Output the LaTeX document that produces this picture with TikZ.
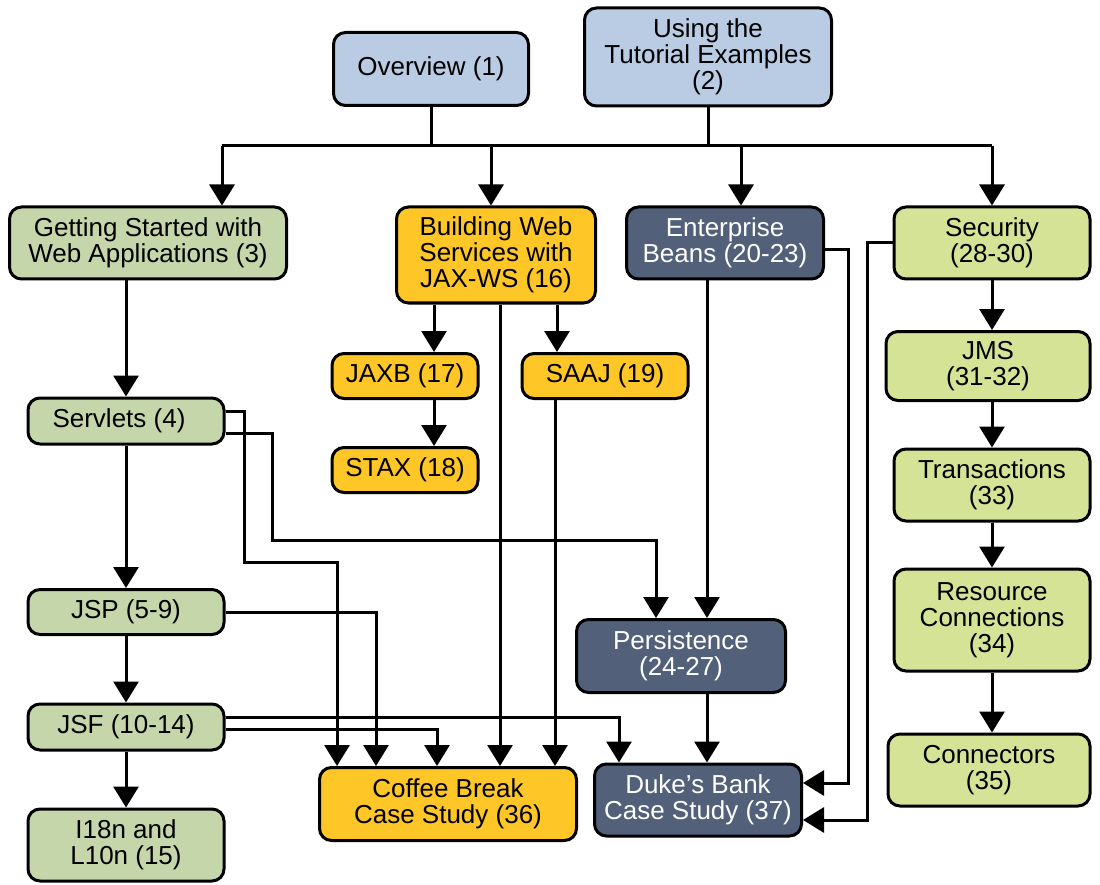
\documentclass[tikz,border=0pt]{standalone}
\usepackage{fontspec}
\setmainfont{Liberation Sans}
\usetikzlibrary{arrows.meta}

\begin{document}
\begin{tikzpicture}[x=1pt, y=-1pt,
  box/.style={draw=black, line width=3pt, rounded corners=12pt, align=center,
    inner sep=0pt, font=\fontsize{26}{26}\selectfont},
  link/.style={line width=3pt},
  arr/.style={line width=3pt, -{Triangle[width=25pt,length=21pt]}}]
  % Define colors for the chapter groups
  \definecolor{bluebox}{RGB}{185,204,228}
  \definecolor{sagebox}{RGB}{197,214,170}
  \definecolor{limebox}{RGB}{212,227,150}
  \definecolor{ambrbox}{RGB}{254,198,38}
  \definecolor{slatebox}{RGB}{82,96,122}

  \useasboundingbox (0,0) rectangle (1100,885);

  % Top row
  \node[box, fill=bluebox, minimum width=195pt, minimum height=73pt] (ovw) at (431,69) {Overview (1)};
  \node[box, fill=bluebox, minimum width=247pt, minimum height=98pt] (tut) at (708,57) {Using the\\Tutorial Examples\\(2)};

  % Second row
  \node[box, fill=sagebox, minimum width=277pt, minimum height=72pt] (start) at (148,243) {Getting Started with\\Web Applications (3)};
  \node[box, fill=ambrbox, minimum width=199pt, minimum height=96pt] (jaxws) at (496,255) {Building Web\\Services with\\JAX-WS (16)};
  \node[box, fill=slatebox, text=white, minimum width=197pt, minimum height=72pt] (ejb) at (725,243) {Enterprise\\Beans (20-23)};
  \node[box, fill=limebox, minimum width=196pt, minimum height=72pt] (sec) at (992,243) {Security\\(28-30)};

  % Web tier
  \node[box, fill=sagebox, minimum width=196pt, minimum height=46pt] (serv) at (126,421) {Servlets (4)\hspace{14pt}};
  \node[box, fill=sagebox, minimum width=196pt, minimum height=45pt] (jsp) at (126,612) {JSP (5-9)};
  \node[box, fill=sagebox, minimum width=196pt, minimum height=46pt] (jsf) at (126,727) {JSF (10-14)};
  \node[box, fill=sagebox, minimum width=196pt, minimum height=72pt] (i18n) at (126,845) {I18n and\\L10n (15)};

  % Web services
  \node[box, fill=ambrbox, minimum width=146pt, minimum height=45pt] (jaxb) at (405,376) {JAXB (17)};
  \node[box, fill=ambrbox, minimum width=166pt, minimum height=45pt] (saaj) at (605,376) {SAAJ (19)};
  \node[box, fill=ambrbox, minimum width=146pt, minimum height=45pt] (stax) at (405,470) {STAX (18)};

  % Enterprise tier
  \node[box, fill=slatebox, text=white, minimum width=209pt, minimum height=73pt] (pers) at (681,656) {Persistence\\(24-27)};

  % Platform services
  \node[box, fill=limebox, minimum width=204pt, minimum height=69pt] (jms) at (988,366) {JMS\\(31-32)};
  \node[box, fill=limebox, minimum width=196pt, minimum height=72pt] (trans) at (992,485) {Transactions\\(33)};
  \node[box, fill=limebox, minimum width=196pt, minimum height=102pt] (res) at (992,620) {Resource\\Connections\\(34)};
  \node[box, fill=limebox, minimum width=202pt, minimum height=72pt] (conn) at (989,770) {Connectors\\(35)};

  % Case studies
  \node[box, fill=ambrbox, minimum width=257pt, minimum height=73pt] (coffee) at (448,804) {Coffee Break\\Case Study (36)};
  \node[box, fill=slatebox, text=white, minimum width=207pt, minimum height=72pt] (duke) at (698,800) {Duke's Bank\\Case Study (37)};

  % Bus from the introduction
  \coordinate (busL) at (222,146);
  \coordinate (busR) at (992,146);
  \draw[link] (busL) -- (busR);
  \draw[link] (ovw.south) -- (ovw.south |- busL);
  \draw[link] (tut.south) -- (tut.south |- busL);
  \draw[arr] (busL) -- (busL |- start.north);
  \draw[arr] ([xshift=-5pt]jaxws.north |- busL) -- ([xshift=-5pt]jaxws.north);
  \draw[arr] ([xshift=16pt]ejb.north |- busL) -- ([xshift=16pt]ejb.north);
  \draw[arr] (busR) -- (busR |- sec.north);

  % Web tier chain
  \draw[arr] (serv.north |- start.south) -- (serv.north);
  \draw[arr] (serv) -- (jsp);
  \draw[arr] (jsp) -- (jsf);
  \draw[arr] (jsf) -- (i18n);

  % Web services chain
  \draw[arr] ([xshift=29pt]jaxb.north |- jaxws.south) -- ([xshift=29pt]jaxb.north);
  \draw[arr] ([xshift=-48pt]saaj.north |- jaxws.south) -- ([xshift=-48pt]saaj.north);
  \draw[arr] ([xshift=29pt]jaxb.south) -- ([xshift=29pt]stax.north);
  \draw[arr] ([xshift=4pt]jaxws.south) -- ([xshift=4pt]jaxws.south |- coffee.north);
  \draw[arr] ([xshift=-50pt]saaj.south) -- ([xshift=-50pt]saaj.south |- coffee.north);

  % Web tier into case studies
  \draw[arr] ([yshift=10pt]serv.east) -- ++(19,0) -- ++(0,151) -| ([xshift=-111pt]coffee.north);
  \draw[arr] ([yshift=-12pt]serv.east) -- ++(47,0) -- ++(0,107) -| ([xshift=-25pt]pers.north);
  \draw[arr] (jsp.east) -| ([xshift=-72pt]coffee.north);
  \draw[arr] ([yshift=10pt]jsf.east) -| ([xshift=-79pt]duke.north);
  \draw[arr] ([yshift=-2pt]jsf.east) -| ([xshift=-11pt]coffee.north);

  % Enterprise tier
  \draw[arr] ([xshift=-18pt]ejb.south) -- ([xshift=-18pt]ejb.south |- pers.north);
  \draw[arr] ([xshift=26pt]pers.south) -- ([xshift=26pt]pers.south |- duke.north);
  \draw[arr] ([yshift=-7pt]ejb.east) -- ++(23,0) |- ([yshift=17pt]duke.east);
  \draw[arr] (sec.west) -- ++(-25,0) |- ([yshift=-20pt]duke.east);

  % Platform services chain
  \draw[arr] (busR |- sec.south) -- (busR |- jms.north);
  \draw[arr] (busR |- jms.south) -- (busR |- trans.north);
  \draw[arr] (busR |- trans.south) -- (busR |- res.north);
  \draw[arr] (busR |- res.south) -- (busR |- conn.north);
\end{tikzpicture}
\end{document}
